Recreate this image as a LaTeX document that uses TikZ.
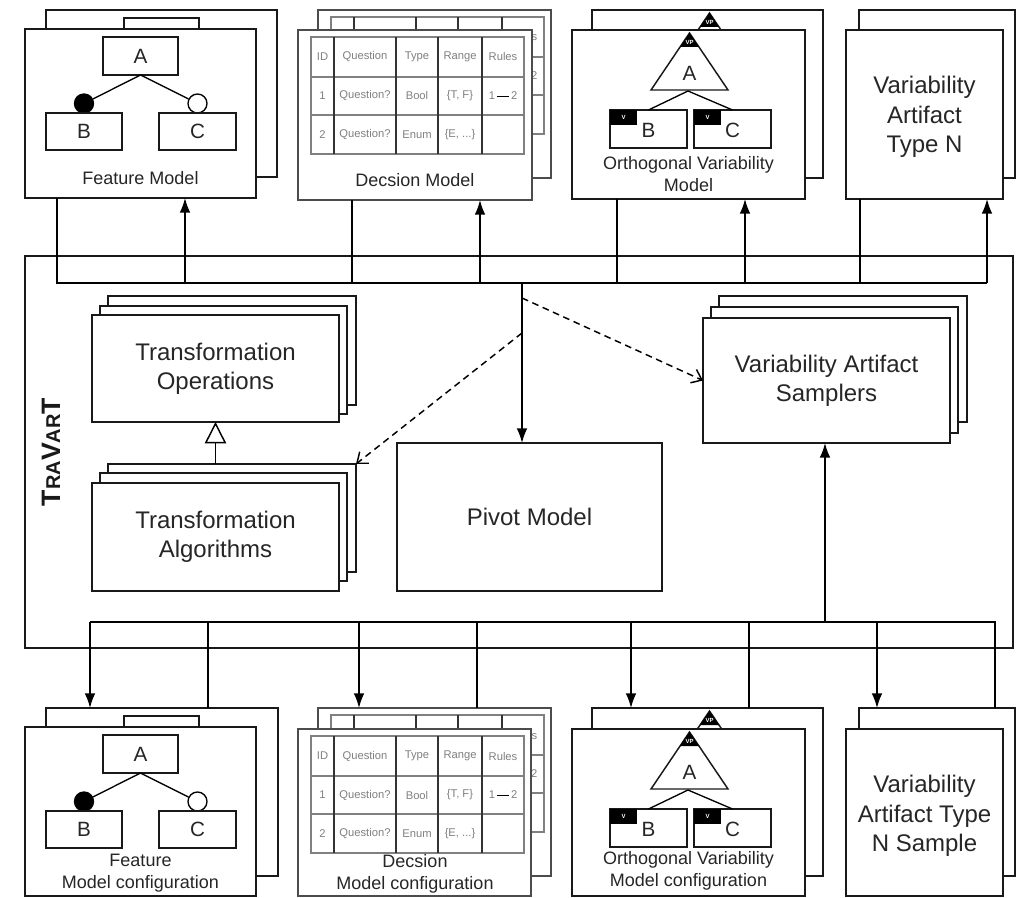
\documentclass[tikz,border=0pt]{standalone}
\usepackage{fontspec}
\setmainfont{Liberation Sans}
\usetikzlibrary{arrows.meta}

\newcommand\lblfont{\fontsize{13.5}{16.5}\selectfont}
\newcommand\bigfont{\fontsize{18}{22}\selectfont}
\newcommand\letfont{\fontsize{15.5}{17}\selectfont}
\newcommand\tblfont{\fontsize{8.4}{9}\selectfont}
\newcommand\tagfont{\fontsize{4.5}{5}\selectfont\bfseries}

\tikzset{
  frame/.style={draw=black!90, line width=1.1pt, fill=white, inner sep=0pt, outer sep=0pt},
  dframe/.style={draw=black!70, line width=1.5pt, fill=white, inner sep=0pt, outer sep=0pt},
  tbl/.style={draw=black!50, line width=1.7pt},
  tblv/.style={draw=black!80, line width=1.5pt},
  tbltxt/.style={font=\tblfont, text=black!50, inner sep=0pt},
  lbl/.style={font=\lblfont, text=black!85, align=center, inner sep=0pt},
  biglbl/.style={font=\bigfont, text=black!85, align=center, inner sep=0pt},
  letter/.style={font=\letfont, text=black!85, inner sep=0pt},
  wire/.style={line width=1.1pt, draw=black},
  arr/.style={wire, -{Latex[length=11pt,width=8pt]}},
  darr/.style={wire, dash pattern=on 5pt off 3.5pt, -{Straight Barb[length=7pt,width=11pt]}},
  inh/.style={wire, -{Triangle[open,length=16pt,width=16pt]}},
  tagtxt/.style={font=\tagfont, text=white, inner sep=0pt},
}

% rectangle node given by its corners (in pixel units)
\newcommand\rect[6][frame]{%
  \node[#1, minimum width={(#5-(#3))*0.75pt}, minimum height={(#6-(#4))*0.75pt}]
    (#2) at ({(#3+#5)/2},{(#4+#6)/2}) {};}

% feature model tree, relative to the box corner
\newcommand\fmtree[1]{%
  \node[frame, letter, minimum width=56.25pt, minimum height=28.5pt] (#1A) at (115.5,27) {A};
  \node[circle, draw, fill=black, line width=1pt, minimum size=14.25pt, inner sep=0pt] (#1m) at (59,74.5) {};
  \node[circle, draw, fill=white, line width=1pt, minimum size=14.25pt, inner sep=0pt] (#1o) at (172.5,74.5) {};
  \draw[line width=1pt] (#1A.south) -- (#1m);
  \draw[line width=1pt] (#1A.south) -- (#1o);
  \node[frame, letter, minimum width=57pt, minimum height=27.75pt] (#1B) at (59,102.5) {B};
  \node[frame, letter, minimum width=57.75pt, minimum height=27.75pt] (#1C) at (172.5,102.5) {C};
}

% decision table, relative to the box corner
\newcommand\dmtable[1]{%
  \draw[tbl] (13,7) rectangle (226,124);
  \draw[tbl] (13,47) -- (226,47) (13,85) -- (226,85);
  \draw[tblv] (36,7) -- (36,124) (98,7) -- (98,124) (140,7) -- (140,124) (184,7) -- (184,124);
  \node[tbltxt] (#1h1) at (24.5,27) {ID};
  \node[tbltxt] (#1h2) at (67,27) {Question};
  \node[tbltxt] (#1h3) at (119,27) {Type};
  \node[tbltxt] (#1h4) at (162,27) {Range};
  \node[tbltxt] (#1h5) at (205,27) {Rules};
  \node[tbltxt] (#1a1) at (24.5,66) {1};
  \node[tbltxt] (#1a2) at (67,66) {Question?};
  \node[tbltxt] (#1a3) at (119,66) {Bool};
  \node[tbltxt] (#1a4) at (162,66) {\{T, F\}};
  \node[tbltxt] (#1a5) at (205,66) {1\,\textcolor{black}{\rule[0.22em]{1.1em}{0.09em}}\,2};
  \node[tbltxt] (#1b1) at (24.5,104.5) {2};
  \node[tbltxt] (#1b2) at (67,104.5) {Question?};
  \node[tbltxt] (#1b3) at (119,104.5) {Enum};
  \node[tbltxt] (#1b4) at (162,104.5) {\{E, ...\}};
}

% orthogonal variability tree, relative to the box corner
\newcommand\ovmtree[1]{%
  \draw[frame] (117.5,3) -- (156,60) -- (79,60) -- cycle;
  \fill (117.5,3) -- (127,17) -- (108,17) -- cycle;
  \node[tagtxt] (#1vp) at (117.5,12.5) {VP};
  \node[letter] (#1A) at (117.5,43) {A};
  \rect{#1B}{38}{80}{115}{118}
  \rect{#1C}{122}{80}{199}{118}
  \coordinate (#1base) at (116,61);
  \draw[line width=1pt] (#1B.north) -- (#1base) -- (#1C.north);
  \fill (38,80) rectangle (65,95);
  \fill (122,80) rectangle (149,95);
  \node[tagtxt] (#1vb) at (51.5,87.5) {V};
  \node[tagtxt] (#1vc) at (135.5,87.5) {V};
  \node[letter] (#1Bt) at (76.5,100.5) {B};
  \node[letter] (#1Ct) at (160.5,100.5) {C};
}

\begin{document}
\begin{tikzpicture}[x=0.75pt,y=-0.75pt]
\useasboundingbox (0,0) rectangle (1023,898);

% the TraVarT frame
\rect{tv}{25}{256}{1013}{648}
\node[rotate=90, font=\fontsize{20}{20}\selectfont\bfseries, text=black!90] (tvname) at (51,452)
  {T{\fontsize{15}{15}\selectfont RA}V{\fontsize{15}{15}\selectfont AR}T};

% ---------- input artifacts ----------
\rect{fmbk}{46}{10}{277}{177}
\begin{scope}[shift={(46,10)}]
  \clip (0,0) rectangle (208,167);
  \fmtree{fmbk}
\end{scope}
\rect{fm}{25}{29}{256}{198}
\begin{scope}[shift={(25,29)}]\fmtree{fmf}\end{scope}
\node[lbl] (fmlbl) at (140.5,178) {Feature Model};

\rect[dframe]{dmbk}{318}{10}{551}{178}
\begin{scope}[shift={(318,10)}]\dmtable{dmbk}\end{scope}
\rect[dframe]{dm}{298}{30}{532}{200}
\begin{scope}[shift={(298,30)}]\dmtable{dmf}\end{scope}
\node[lbl] (dmlbl) at (415,180) {Decsion Model};

\rect{ovbk}{592}{10}{823}{178}
\begin{scope}[shift={(592,10)}]\ovmtree{ovbk}\end{scope}
\rect{ov}{572}{30}{805}{199}
\begin{scope}[shift={(572,30)}]\ovmtree{ovf}\end{scope}
\node[lbl] (ovlbl) at (688.5,174) {Orthogonal Variability\\Model};

\rect{vnbk}{859}{10}{1015}{178}
\rect{vn}{846}{30}{1003}{199}
\node[biglbl] (vnlbl) at (924.5,117) {Variability\\Artifact\\Type N};

% ---------- configurations / samples ----------
\rect{fcbk}{46}{708}{278}{876}
\begin{scope}[shift={(46,708)}]
  \clip (0,0) rectangle (208,167);
  \fmtree{fcbk}
\end{scope}
\rect{fc}{25}{727}{256}{896}
\begin{scope}[shift={(25,727)}]\fmtree{fcf}\end{scope}
\node[lbl] (fclbl) at (140.5,873) {Feature\\Model configuration};

\rect[dframe]{dcbk}{318}{708}{551}{876}
\begin{scope}[shift={(318,708)}]\dmtable{dcbk}\end{scope}
\rect[dframe]{dc}{298}{729}{531}{896}
\begin{scope}[shift={(298,729)}]\dmtable{dcf}\end{scope}
\node[lbl] (dclbl) at (415,874) {Decsion\\Model configuration};

\rect{ocbk}{592}{708}{823}{876}
\begin{scope}[shift={(592,708)}]\ovmtree{ocbk}\end{scope}
\rect{oc}{572}{729}{805}{896}
\begin{scope}[shift={(572,729)}]\ovmtree{ocf}\end{scope}
\node[lbl] (oclbl) at (688.5,871) {Orthogonal Variability\\Model configuration};

\rect{vcbk}{859}{708}{1015}{876}
\rect{vc}{846}{729}{1003}{896}
\node[biglbl] (vclbl) at (924.5,816) {Variability\\Artifact Type\\N Sample};

% ---------- inside TraVarT ----------
\rect{tob}{108}{296}{356}{405}
\rect{tom}{100}{306}{347}{414}
\rect{to}{92}{315}{339}{422}
\node[biglbl, text width=230pt] (totxt) at (to) {Transformation\\Operations};

\rect{tab}{108}{464}{356}{572}
\rect{tam}{100}{473}{347}{581}
\rect{ta}{92}{483}{339}{591}
\node[biglbl, text width=230pt] (tatxt) at (ta) {Transformation\\Algorithms};

\rect{pv}{397}{443}{662}{591}
\node[biglbl] (pvtxt) at (pv) {Pivot Model};

\rect{smb}{719}{296}{967}{422}
\rect{smm}{711}{307}{958}{433}
\rect{sm}{703}{318}{950}{443}
\node[biglbl] (smtxt) at (826.5,381) {Variability Artifact\\Samplers};

% ---------- upper bus ----------
\coordinate (tA) at (57,283);  \coordinate (tB) at (185,283);
\coordinate (tC) at (352,283); \coordinate (tD) at (480,283);
\coordinate (tE) at (617,283); \coordinate (tF) at (745,283);
\coordinate (tG) at (860,283); \coordinate (tH) at (987,283);
\coordinate (hub) at (522,283);
\coordinate (d1) at (522,298); \coordinate (d2) at (522,333);

\draw[wire] (fm.south -| tA) -- (tA) -- (tH);
\draw[wire] (dm.south -| tC) -- (tC);
\draw[wire] (ov.south -| tE) -- (tE);
\draw[wire] (vn.south -| tG) -- (tG);
\draw[arr] (tB) -- (fm.south -| tB);
\draw[arr] (tD) -- (dm.south -| tD);
\draw[arr] (tF) -- (ov.south -| tF);
\draw[arr] (tH) -- (vn.south -| tH);

\draw[arr] (hub) -- (hub |- pv.north);
\draw[darr] (d1) -- (sm.west);
\draw[darr] (d2) -- (tab.north east);
\draw[inh] (to.south |- tab.north) -- (to.south);

% ---------- lower bus ----------
\coordinate (bA) at (90,622);  \coordinate (bB) at (208,622);
\coordinate (bC) at (359,622); \coordinate (bD) at (477,622);
\coordinate (bE) at (631,622); \coordinate (bF) at (749,622);
\coordinate (bG) at (877,622); \coordinate (bH) at (995,622);
\coordinate (bS) at (825,622);

\draw[wire] (bA) -- (bH) -- (vcbk.north -| bH);
\draw[wire] (fcbk.north -| bB) -- (bB);
\draw[wire] (dcbk.north -| bD) -- (bD);
\draw[wire] (ocbk.north -| bF) -- (bF);
\draw[arr] (bA) -- (fcbk.north -| bA);
\draw[arr] (bC) -- (dcbk.north -| bC);
\draw[arr] (bE) -- (ocbk.north -| bE);
\draw[arr] (bG) -- (vcbk.north -| bG);
\draw[arr] (bS) -- (sm.south -| bS);
\end{tikzpicture}
\end{document}
